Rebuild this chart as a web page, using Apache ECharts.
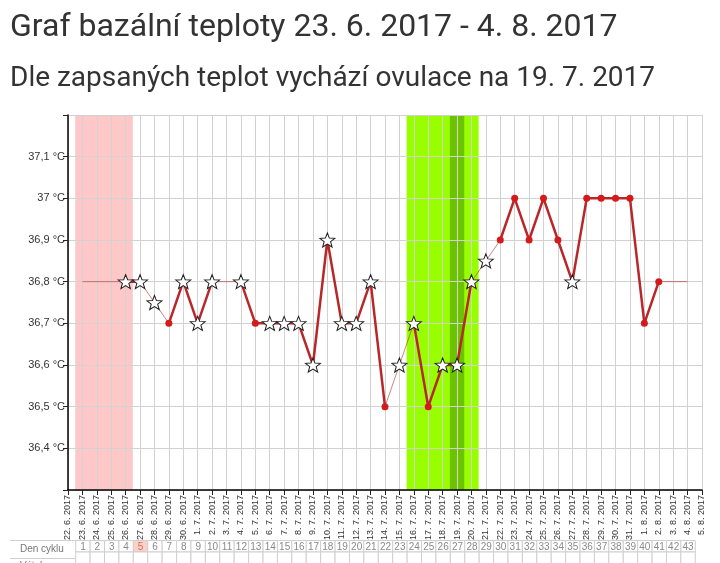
<!DOCTYPE html>
<html><head><meta charset="utf-8">
<script src="https://cdn.jsdelivr.net/npm/echarts@6/dist/echarts.min.js"></script>
<style>html,body{margin:0;padding:0;background:#fff}#c{width:720px;height:563px}</style>
</head><body><div id="c"></div>
<script>
const titleText = 'Graf bazální teploty 23. 6. 2017 - 4. 8. 2017';
const subtitleText = 'Dle zapsaných teplot vychází ovulace na 19. 7. 2017';

const dates = [
  '22. 6. 2017','23. 6. 2017','24. 6. 2017','25. 6. 2017','26. 6. 2017','27. 6. 2017','28. 6. 2017','29. 6. 2017','30. 6. 2017',
  '1. 7. 2017','2. 7. 2017','3. 7. 2017','4. 7. 2017','5. 7. 2017','6. 7. 2017','7. 7. 2017','8. 7. 2017','9. 7. 2017','10. 7. 2017',
  '11. 7. 2017','12. 7. 2017','13. 7. 2017','14. 7. 2017','15. 7. 2017','16. 7. 2017','17. 7. 2017','18. 7. 2017','19. 7. 2017','20. 7. 2017',
  '21. 7. 2017','22. 7. 2017','23. 7. 2017','24. 7. 2017','25. 7. 2017','26. 7. 2017','27. 7. 2017','28. 7. 2017','29. 7. 2017','30. 7. 2017',
  '31. 7. 2017','1. 8. 2017','2. 8. 2017','3. 8. 2017','4. 8. 2017','5. 8. 2017'
];

// measured temperatures, aligned with dates (null = no value)
const temperatures = [
  null, null, null, null, 36.8, 36.8, 36.75, 36.7, 36.8,
  36.7, 36.8, null, 36.8, 36.7, 36.7, 36.7, 36.7, 36.6, 36.9,
  36.7, 36.7, 36.8, 36.5, 36.6, 36.7, 36.5, 36.6, 36.6, 36.8,
  36.85, 36.9, 37.0, 36.9, 37.0, 36.9, 36.8, 37.0, 37.0, 37.0,
  37.0, 36.7, 36.8, null, null, null
];
// marker kind per date: 's' = star, 'd' = dot, '' = none
const markerKind = [
  '', '', '', '', 's', 's', 's', 'd', 's',
  's', 's', '', 's', 'd', 's', 's', 's', 's', 's',
  's', 's', 's', 'd', 's', 's', 'd', 's', 's', 's',
  's', 'd', 'd', 'd', 'd', 'd', 's', 'd', 'd', 'd',
  'd', 'd', 'd', '', '', ''
];
// excluded measurements (drawn with the thin line only)
const excludedIdx = [6, 23, 29];
// thin continuation line where nothing was measured
const edgeLine = [
  null, 36.8, 36.8, 36.8, null, null, null, null, null,
  null, null, null, null, null, null, null, null, null, null,
  null, null, null, null, null, null, null, null, null, null,
  null, null, null, null, null, null, null, null, null, null,
  null, null, null, 36.8, 36.8, null
];
const cycleDays = [1,2,3,4,5,6,7,8,9,10,11,12,13,14,15,16,17,18,19,20,21,22,23,24,25,26,27,28,29,30,31,32,33,34,35,36,37,38,39,40,41,42,43];
const highlightedDay = 5;
const menstruationDays = [1, 4];
const fertileDays = [24, 28];
const ovulationDay = 27;

const STAR = 'path://M12,1L14.9,8.6L23,9L16.7,14.1L18.9,22L12,17.5L5.1,22L7.3,14.1L1,9L9.1,8.6Z';
const starItem = v => ({value: v, symbol: STAR, symbolSize: [15, 14], symbolKeepAspect: false,
  itemStyle: {color: '#fff', borderColor: '#222', borderWidth: 1}});
const dotItem = v => ({value: v, symbol: 'circle', symbolSize: 7,
  itemStyle: {color: '#d41a1a', borderColor: '#d41a1a', borderWidth: 0}});

const thickData = temperatures.map((v, i) => {
  if (v == null || excludedIdx.includes(i)) return null;
  return markerKind[i] === 's' ? starItem(v) : dotItem(v);
});
const thinData = temperatures.map((v, i) => {
  const val = v != null ? v : edgeLine[i];
  if (val == null) return null;
  if (excludedIdx.includes(i)) return starItem(val);
  return {value: val, symbol: 'none'};
});

const chart = echarts.init(document.getElementById('c'), null, {renderer: 'canvas'});
const GRID_L = 68, GRID_R = 18;

chart.setOption({
  animation: false,
  backgroundColor: '#fff',
  textStyle: {fontFamily: '"Liberation Sans", Arial, sans-serif'},
  title: [
    {text: titleText, left: 5, top: 7,
     textStyle: {fontFamily: 'Roboto', fontSize: 32, fontWeight: 'normal', color: '#333'}},
    {text: subtitleText, left: 5, top: 60,
     textStyle: {fontFamily: 'Roboto', fontSize: 28, fontWeight: 'normal', color: '#333'}}
  ],
  grid: [
    {left: GRID_L, right: GRID_R, top: 115, bottom: 73, containLabel: false},
    {left: GRID_L, right: GRID_R, top: 540, height: 36, containLabel: false}
  ],
  xAxis: [
    {type: 'category', gridIndex: 0, data: dates, boundaryGap: false, z: 3,
     axisLine: {lineStyle: {color: '#000', width: 1.5}},
     axisTick: {show: true, interval: 0, length: 5, lineStyle: {color: '#222'}},
     axisLabel: {interval: 0, rotate: 90, fontSize: 9, color: '#333', margin: 5},
     splitLine: {show: true, interval: 0, lineStyle: {color: '#d2d2d2', width: 1}}},
    {type: 'value', gridIndex: 0, min: 0, max: dates.length - 1, show: false},
    {type: 'value', gridIndex: 1, min: 0, max: dates.length - 1, show: false}
  ],
  yAxis: [
    {type: 'value', gridIndex: 0, min: 36.3, max: 37.2, interval: 0.1, z: 3,
     axisLine: {show: true, lineStyle: {color: '#000', width: 1.5}},
     axisTick: {show: true, length: 5, lineStyle: {color: '#222'}},
     axisLabel: {fontSize: 11, color: '#333', margin: 3,
       formatter: v => {
         const r = Math.round(v * 10) / 10;
         if (r <= 36.3 || r >= 37.2) return '';
         return String(r).replace('.', ',') + ' °C';
       }},
     splitLine: {show: true, lineStyle: {color: '#d2d2d2', width: 1}}},
    {type: 'value', gridIndex: 1, min: 0, max: 2, inverse: true, show: false}
  ],
  series: [
    {type: 'line', xAxisIndex: 1, yAxisIndex: 0, data: [], silent: true, z: 1,
     markArea: {silent: true, data: [
       [{xAxis: menstruationDays[0] - 0.5, itemStyle: {color: '#ffc8c8'}}, {xAxis: menstruationDays[1] + 0.5}],
       [{xAxis: fertileDays[0] - 0.5, itemStyle: {color: '#99ff00'}}, {xAxis: fertileDays[1] + 0.5}],
       [{xAxis: ovulationDay - 0.5, itemStyle: {color: '#6cc400'}}, {xAxis: ovulationDay + 0.5}]
     ]}},
    {type: 'line', xAxisIndex: 0, yAxisIndex: 0, data: thinData, connectNulls: true,
     showAllSymbol: true, z: 5,
     lineStyle: {color: 'rgba(175,45,45,0.6)', width: 1}},
    {type: 'line', xAxisIndex: 0, yAxisIndex: 0, data: thickData, connectNulls: false,
     showAllSymbol: true, z: 6,
     lineStyle: {color: '#b8282a', width: 2.5}},
    {type: 'custom', xAxisIndex: 2, yAxisIndex: 1,
     data: cycleDays.map((d, k) => [k + 1, d]),
     renderItem: (params, api) => {
       const i = api.value(0), d = api.value(1);
       const a = api.coord([i - 0.5, 0]), b = api.coord([i + 0.5, 1]), c = api.coord([i + 0.5, 2]);
       const hl = d === highlightedDay;
       return {type: 'group', children: [
         {type: 'rect', shape: {x: a[0] + 0.5, y: a[1] + 0.5, width: b[0] - a[0], height: b[1] - a[1]},
          style: {fill: hl ? '#fbd2c8' : '#fff', stroke: '#cfcfcf', lineWidth: 1}},
         {type: 'rect', shape: {x: a[0] + 0.5, y: b[1] + 0.5, width: b[0] - a[0], height: c[1] - b[1]},
          style: {fill: '#fff', stroke: '#cfcfcf', lineWidth: 1}},
         {type: 'text', style: {text: String(d), x: (a[0] + b[0]) / 2 + 0.5, y: (a[1] + b[1]) / 2 + 1,
          align: 'center', verticalAlign: 'middle', fill: hl ? '#e06a5a' : '#8a8a8a',
          font: '10px "Liberation Sans", Arial, sans-serif'}}
       ]};
     }}
  ],
  graphic: [
    {type: 'line', shape: {x1: 10, y1: 540.5, x2: GRID_L + 8, y2: 540.5}, style: {stroke: '#cfcfcf', lineWidth: 1}},
    {type: 'line', shape: {x1: 10, y1: 558.5, x2: GRID_L + 8, y2: 558.5}, style: {stroke: '#cfcfcf', lineWidth: 1}},
    {type: 'text', left: 20, top: 544, style: {text: 'Den cyklu', fill: '#777', font: '10px "Liberation Sans", Arial, sans-serif'}},
    {type: 'text', left: 20, top: 561, style: {text: 'Výtok', fill: '#777', font: '10px "Liberation Sans", Arial, sans-serif'}}
  ]
});
</script>
</body></html>
